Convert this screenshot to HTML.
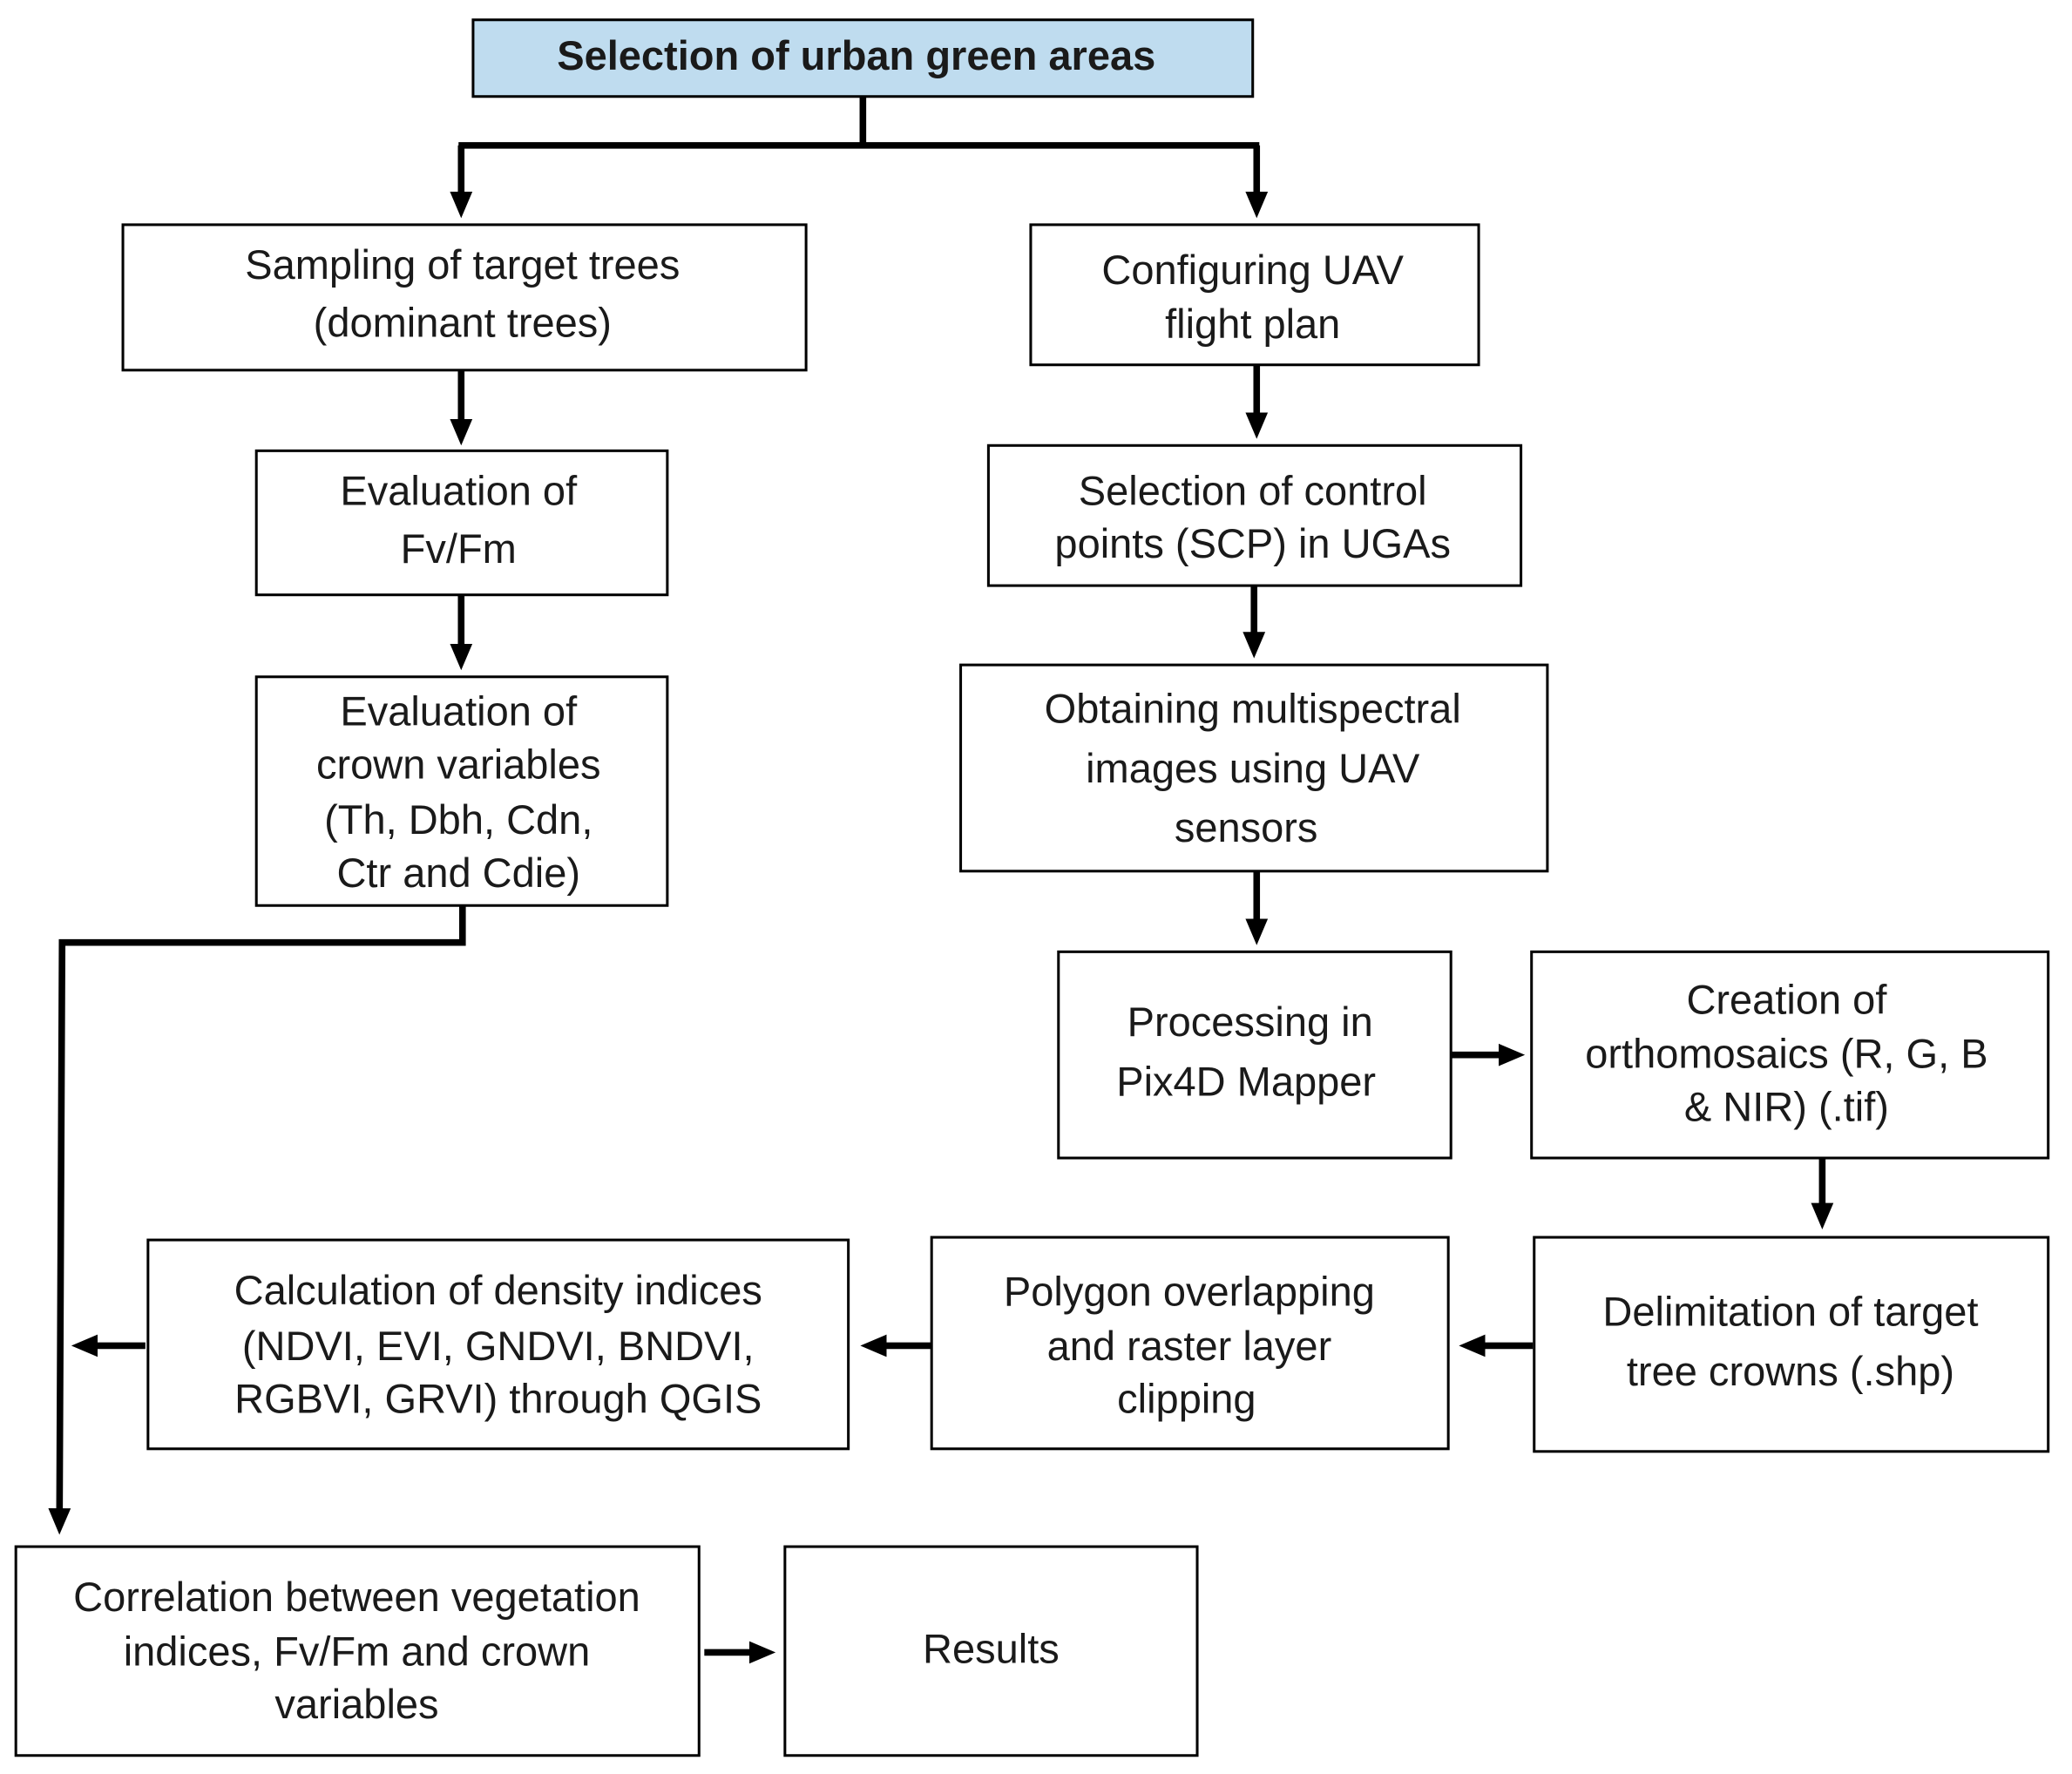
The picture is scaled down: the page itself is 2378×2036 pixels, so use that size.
<!DOCTYPE html>
<html><head><meta charset="utf-8"><style>
html,body{margin:0;padding:0;background:#fff}
svg{display:block}
text{font-family:"Liberation Sans",Arial,sans-serif;font-size:31px;fill:#1a1a1a;text-anchor:middle;dominant-baseline:central}
.b{fill:#fff;stroke:#000;stroke-width:2}
.l{stroke:#000;stroke-width:5;fill:none}
</style></head><body>
<svg width="2378" height="2036" viewBox="0 0 1568 1342" preserveAspectRatio="none" xmlns="http://www.w3.org/2000/svg">
<defs><marker id="a" markerWidth="4" markerHeight="4" refX="2.2" refY="2" orient="auto" markerUnits="strokeWidth"><path d="M0,0.3 L4,2 L0,3.7 Z" fill="#000"/></marker></defs>
<!-- boxes -->
<rect x="358" y="15" width="590" height="58" fill="#bfdcef" stroke="#000" stroke-width="2"/>
<text x="648" y="42" style="font-weight:bold;font-size:31px">Selection of urban green areas</text>
<rect class="b" x="93" y="170" width="517" height="110"/>
<text x="350" y="200">Sampling of target trees</text><text x="350" y="244">(dominant trees)</text>
<rect class="b" x="780" y="170" width="339" height="106"/>
<text x="948" y="204">Configuring UAV</text><text x="948" y="245">flight plan</text>
<rect class="b" x="194" y="341" width="311" height="109"/>
<text x="347" y="371">Evaluation of</text><text x="347" y="415">Fv/Fm</text>
<rect class="b" x="748" y="337" width="403" height="106"/>
<text x="948" y="371">Selection of control</text><text x="948" y="411">points (SCP) in UGAs</text>
<rect class="b" x="194" y="512" width="311" height="173"/>
<text x="347" y="538">Evaluation of</text><text x="347" y="578">crown variables</text><text x="347" y="620">(Th, Dbh, Cdn,</text><text x="347" y="660">Ctr and Cdie)</text>
<rect class="b" x="727" y="503" width="444" height="156"/>
<text x="948" y="536">Obtaining multispectral</text><text x="948" y="581">images using UAV</text><text x="943" y="626">sensors</text>
<rect class="b" x="801" y="720" width="297" height="156"/>
<text x="946" y="773">Processing in</text><text x="943" y="818">Pix4D Mapper</text>
<rect class="b" x="1159" y="720" width="391" height="156"/>
<text x="1352" y="756">Creation of</text><text x="1352" y="797">orthomosaics (R, G, B</text><text x="1352" y="837">&amp; NIR) (.tif)</text>
<rect class="b" x="1161" y="936" width="389" height="162"/>
<text x="1355" y="992">Delimitation of target</text><text x="1355" y="1037">tree crowns (.shp)</text>
<rect class="b" x="705" y="936" width="391" height="160"/>
<text x="900" y="977">Polygon overlapping</text><text x="900" y="1018">and raster layer</text><text x="898" y="1058">clipping</text>
<rect class="b" x="112" y="938" width="530" height="158"/>
<text x="377" y="976">Calculation of density indices</text><text x="377" y="1018">(NDVI, EVI, GNDVI, BNDVI,</text><text x="377" y="1058">RGBVI, GRVI) through QGIS</text>
<rect class="b" x="12" y="1170" width="517" height="158"/>
<text x="270" y="1208">Correlation between vegetation</text><text x="270" y="1249">indices, Fv/Fm and crown</text><text x="270" y="1289">variables</text>
<rect class="b" x="594" y="1170" width="312" height="158"/>
<text x="750" y="1247">Results</text>
<!-- connectors -->
<path class="l" d="M653,73 V110" stroke-width="4"/>
<path class="l" d="M347,110 H953" stroke-width="6"/>
<path class="l" d="M349,110 V156" stroke-width="4" marker-end="url(#a)"/>
<path class="l" d="M951,110 V156" stroke-width="4" marker-end="url(#a)"/>
<path class="l" d="M349,280 V328" stroke-width="4" marker-end="url(#a)"/>
<path class="l" d="M951,276 V323" stroke-width="4" marker-end="url(#a)"/>
<path class="l" d="M349,450 V498" stroke-width="4" marker-end="url(#a)"/>
<path class="l" d="M949,443 V489" stroke-width="4" marker-end="url(#a)"/>
<path class="l" d="M951,659 V706" stroke-width="4" marker-end="url(#a)"/>
<path class="l" d="M1098,798 H1145" stroke-width="4" marker-end="url(#a)"/>
<path class="l" d="M1379,876 V921" stroke-width="4" marker-end="url(#a)"/>
<path class="l" d="M1160,1018 H1113" stroke-width="4" marker-end="url(#a)"/>
<path class="l" d="M705,1018 H660" stroke-width="4" marker-end="url(#a)"/>
<path class="l" d="M110,1018 H63" stroke-width="4" marker-end="url(#a)"/>
<path class="l" d="M350,685 V713 H47 L45,1152" stroke-width="5" marker-end="url(#a)"/>
<path class="l" d="M533,1250 H578" stroke-width="4" marker-end="url(#a)"/>
</svg>
</body></html>
